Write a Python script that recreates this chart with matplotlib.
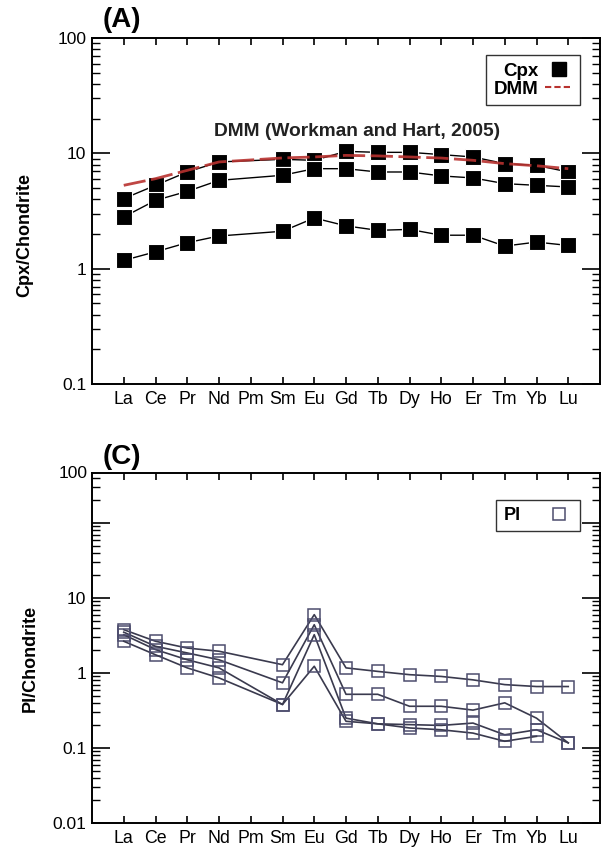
import numpy as np
import matplotlib
matplotlib.use("Agg")
import matplotlib.pyplot as plt
from matplotlib.ticker import LogLocator, FixedLocator, NullFormatter, FixedFormatter
from matplotlib.lines import Line2D

plt.rcParams['font.family'] = ['Liberation Sans', 'DejaVu Sans']

# ---------------- data ----------------
ree = ['La', 'Ce', 'Pr', 'Nd', 'Pm', 'Sm', 'Eu', 'Gd', 'Tb', 'Dy', 'Ho', 'Er', 'Tm', 'Yb', 'Lu']
# values for all REE except Pm (not analysed)
ree_meas = ['La', 'Ce', 'Pr', 'Nd', 'Sm', 'Eu', 'Gd', 'Tb', 'Dy', 'Ho', 'Er', 'Tm', 'Yb', 'Lu']

cpx_1 = [4.05, 5.28, 6.89, 8.42, 8.87, 8.70, 10.4, 10.2, 10.2, 9.75, 9.30, 8.14, 7.87, 6.89]
cpx_2 = [2.81, 3.91, 4.68, 5.83, 6.45, 7.36, 7.36, 6.89, 6.89, 6.37, 6.12, 5.46, 5.28, 5.11]
cpx_3 = [1.18, 1.40, 1.68, 1.92, 2.11, 2.75, 2.35, 2.15, 2.19, 1.95, 1.95, 1.57, 1.70, 1.59]
dmm = [5.28, 6.03, 7.12, 8.42, 9.12, 9.30, 9.60, 9.50, 9.30, 9.10, 8.70, 8.14, 7.80, 7.36]

pl_1 = [3.78, 2.65, 2.15, 1.95, 1.29, 6.00, 1.17, 1.05, 0.95, 0.90, 0.81, 0.70, 0.66, 0.66]
pl_2 = [3.50, 2.27, 1.85, 1.50, 0.74, 4.40, 0.52, 0.52, 0.36, 0.36, 0.32, 0.40, 0.25, 0.117]
pl_3 = [3.24, 2.05, 1.50, 1.17, 0.38, 3.24, 0.25, 0.21, 0.205, 0.20, 0.215, 0.15, 0.175, 0.117]
pl_4 = [2.65, 1.75, 1.17, 0.86, 0.38, 1.23, 0.227, 0.21, 0.185, 0.175, 0.158, 0.123, 0.143, np.nan]

ylabels_A = ['0.1', '1', '10', '100']
ylabels_C = ['0.01', '0.1', '1', '10', '100']

# ---------------- figure ----------------
W, H = 603, 852
fig = plt.figure(figsize=(W / 100, H / 100), dpi=100)

def box(l, r, t, b):
    return [l / W, 1 - b / H, (r - l) / W, (b - t) / H]

axA = fig.add_axes(box(92, 600, 38, 384))
axC = fig.add_axes(box(92, 600, 473, 823))

xpos = [ree.index(e) for e in ree_meas]

def style_axis(ax):
    ax.set_yscale('log')
    ax.set_xlim(-1, 15)
    ax.set_xticks(range(len(ree)))
    ax.set_xticklabels(ree, fontsize=12.8)
    ax.tick_params(axis='x', which='both', direction='in', length=5, width=1.2,
                   top=True, bottom=True, pad=5)
    ax.tick_params(axis='y', which='major', direction='in', length=13, width=1.2,
                   left=True, right=True, labelsize=12.5, pad=4)
    ax.tick_params(axis='y', which='minor', direction='in', length=6, width=1.0,
                   left=True, right=True)
    for s in ax.spines.values():
        s.set_linewidth(1.4)

# ---- panel A ----
style_axis(axA)
for ser in (cpx_1, cpx_2, cpx_3):
    axA.plot(xpos, ser, color='black', lw=1.0, marker='s', ms=12,
             mfc='black', mec='white', mew=0.8, zorder=3)
axA.plot(xpos, dmm, color='#b8322f', lw=2.0, ls=(0, (8, 2)), zorder=4, alpha=0.9)
axA.set_ylim(0.1, 100)
axA.yaxis.set_major_locator(FixedLocator([0.1, 1, 10, 100]))
axA.yaxis.set_major_formatter(FixedFormatter(ylabels_A))
axA.yaxis.set_minor_locator(LogLocator(base=10, subs=np.arange(2, 10) * 1.0))
axA.yaxis.set_minor_formatter(NullFormatter())
axA.set_ylabel('Cpx/Chondrite', fontsize=13, fontweight='bold')
axA.yaxis.set_label_coords(-0.115, 0.43)
axA.text(7.35, 15.4, 'DMM (Workman and Hart, 2005)', ha='center', va='center',
         fontsize=13.8, fontweight='bold', color='#222222')
hA = [Line2D([], [], ls='none', marker='s', ms=10, mfc='black', mec='black'),
      Line2D([], [], color='#b8322f', lw=1.5, ls=(0, (3, 1.5)))]
legA = axA.legend(hA, ['Cpx', 'DMM'], loc='upper right', bbox_to_anchor=(0.961, 0.951),
                  borderaxespad=0, markerfirst=False, frameon=True, fancybox=False,
                  edgecolor='black', handlelength=1.5, handletextpad=0.35,
                  labelspacing=0.05, borderpad=0.4,
                  prop={'weight': 'bold', 'size': 13.5})
legA.get_frame().set_linewidth(1.0)
fig.text(103 / W, 1 - 20 / H, '(A)', fontsize=20, fontweight='bold', ha='left', va='center')

# ---- panel C ----
style_axis(axC)
for ser in (pl_1, pl_2, pl_3, pl_4):
    xs = [x for x, v in zip(xpos, ser) if not np.isnan(v)]
    vs = [v for v in ser if not np.isnan(v)]
    axC.plot(xs, vs, color='#3a3a4e', lw=1.2, marker='s', ms=9,
             mfc='none', mec='#4d4d6e', mew=1.1, zorder=3)
axC.set_ylim(0.01, 464)
axC.yaxis.set_major_locator(FixedLocator([0.01, 0.1, 1, 10, 100]))
axC.yaxis.set_major_formatter(FixedFormatter(ylabels_C[:-1] + ['']))
axC.yaxis.set_minor_locator(LogLocator(base=10, subs=np.arange(2, 10) * 1.0))
axC.yaxis.set_minor_formatter(NullFormatter())
axC.text(-0.008, 1.0, ylabels_C[-1], transform=axC.transAxes, ha='right', va='center',
         fontsize=12.5)
axC.set_ylabel('Pl/Chondrite', fontsize=13, fontweight='bold')
axC.yaxis.set_label_coords(-0.105, 0.47)
hC = [Line2D([], [], ls='none', marker='s', ms=9, mfc='none', mec='#4d4d6e', mew=1.1)]
legC = axC.legend(hC, ['Pl'], loc='upper right', bbox_to_anchor=(0.961, 0.923),
                  borderaxespad=0, markerfirst=False, frameon=True, fancybox=False,
                  edgecolor='black', handlelength=1.6, handletextpad=1.3,
                  borderpad=0.4, prop={'weight': 'bold', 'size': 13})
legC.get_frame().set_linewidth(1.0)
fig.text(103 / W, 1 - 457 / H, '(C)', fontsize=20, fontweight='bold', ha='left', va='center')

fig.savefig('out.png', dpi=100)
